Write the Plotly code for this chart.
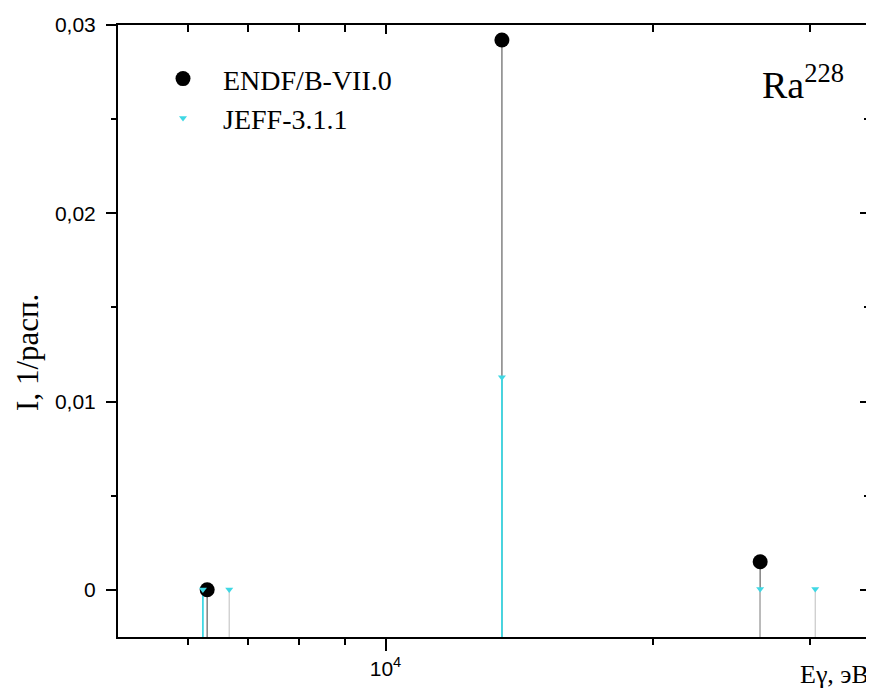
import math
import plotly.graph_objects as go

# ---- data ----
ENDF_E = [6300, 13520, 26400]          # eV
ENDF_I = [0.00001, 0.0292, 0.0015]     # 1/decay
JEFF_E = [6230, 6670, 13520, 26400, 30450]
JEFF_I = [0.00002, 0.00002, 0.0113, 0.00005, 0.00005]

Y_TICKS = [0, 0.01, 0.02, 0.03]
Y_TICK_TEXT = ["0", "0,01", "0,02", "0,03"]
Y_MINOR = [0.005, 0.015, 0.025]
X_TICKS = [10000]
X_TICK_TEXT = ["10<sup>4</sup>"]
X_MINOR = [6000, 7000, 8000, 9000, 20000, 30000]
X_RANGE = [5000, 35000]
Y_RANGE = [-0.0025, 0.03]

# ---- styles ----
CYAN = "#3fd8e4"
ENDF_STEM = "#8a8a8a"
JEFF_STEM_COLORS = [CYAN, "#c8c8c8", CYAN, "#c8c8c8", "#c8c8c8"]
SERIF = "Liberation Serif, Times New Roman, serif"
SANS = "Liberation Sans, Arial, sans-serif"

lx = [math.log10(v) for v in X_RANGE]

fig = go.Figure()

# ENDF stems
sx, sy = [], []
for e, v in zip(ENDF_E, ENDF_I):
    sx += [e, e, None]
    sy += [Y_RANGE[0], v, None]
fig.add_trace(go.Scatter(x=sx, y=sy, mode="lines", line=dict(color=ENDF_STEM, width=1.6),
                         showlegend=False, hoverinfo="skip"))
# JEFF stems (drawn over)
for e, v, c in zip(JEFF_E, JEFF_I, JEFF_STEM_COLORS):
    fig.add_trace(go.Scatter(x=[e, e], y=[Y_RANGE[0], v], mode="lines",
                             line=dict(color=c, width=1.8 if c == CYAN else 1.2),
                             showlegend=False, hoverinfo="skip"))

fig.add_trace(go.Scatter(x=ENDF_E, y=ENDF_I, mode="markers", name="ENDF/B-VII.0",
                         marker=dict(symbol="circle", size=15, color="black")))
fig.add_trace(go.Scatter(x=JEFF_E, y=JEFF_I, mode="markers", name="JEFF-3.1.1",
                         marker=dict(symbol="triangle-down", size=7, color=CYAN)))

# invisible trace for the mirrored (top/right) axes
fig.add_trace(go.Scatter(x=[X_RANGE[0]], y=[Y_RANGE[0]], xaxis="x2", yaxis="y2",
                         mode="markers", marker=dict(opacity=0), showlegend=False,
                         hoverinfo="skip"))

# page has an 8px body margin; figure coords = page coords - 8
OFF = 8
W, H = 874 - OFF, 694 - OFF
L, T = 118 - OFF, 23 - OFF
R = W - (869 - OFF)
B = H - (637 - OFF)
pw = W - L - R
ph = H - T - B


def px(xp):
    return (xp - OFF - L) / pw


def py(yp):
    return 1 - (yp - OFF - T) / ph


fig.update_layout(
    width=W, height=H,
    margin=dict(l=L, r=R, t=T, b=B),
    paper_bgcolor="white", plot_bgcolor="white",
    showlegend=True,
    legend=dict(x=px(143), y=py(52), xanchor="left", yanchor="top",
                bgcolor="rgba(0,0,0,0)", font=dict(family=SERIF, size=28, color="black"),
                itemwidth=70, tracegroupgap=0),
    xaxis=dict(type="log", range=lx, showgrid=False, zeroline=False,
               showline=True, linecolor="black", linewidth=2,
               tickmode="array", tickvals=X_TICKS, ticktext=X_TICK_TEXT,
               ticks="outside", ticklen=12, tickwidth=2, tickcolor="black",
               tickfont=dict(family=SANS, size=21, color="black"),
               minor=dict(tickmode="array", tickvals=X_MINOR, ticks="outside",
                          ticklen=6, tickwidth=2, tickcolor="black", showgrid=False)),
    yaxis=dict(range=Y_RANGE, showgrid=False, zeroline=False,
               showline=True, linecolor="black", linewidth=2,
               tickmode="array", tickvals=Y_TICKS, ticktext=Y_TICK_TEXT,
               ticks="outside", ticklen=10, tickwidth=2, tickcolor="black",
               ticklabelstandoff=6,
               tickfont=dict(family=SANS, size=21, color="black"),
               minor=dict(tickmode="array", tickvals=Y_MINOR, ticks="outside",
                          ticklen=5, tickwidth=2, tickcolor="black", showgrid=False)),
    xaxis2=dict(type="log", range=lx, overlaying="x", side="top", anchor="y2",
                showgrid=False, zeroline=False, showline=True, linecolor="black", linewidth=2,
                tickmode="array", tickvals=X_TICKS, showticklabels=False,
                ticks="inside", ticklen=9, tickwidth=2, tickcolor="black",
                minor=dict(tickmode="array", tickvals=X_MINOR, ticks="inside",
                           ticklen=7, tickwidth=2, tickcolor="black", showgrid=False)),
    yaxis2=dict(range=Y_RANGE, overlaying="y", side="right", anchor="x2",
                showgrid=False, zeroline=False, showline=True, linecolor="black", linewidth=2,
                tickmode="array", tickvals=Y_TICKS, showticklabels=False,
                ticks="inside", ticklen=9, tickwidth=2, tickcolor="black",
                minor=dict(tickmode="array", tickvals=Y_MINOR, ticks="inside",
                           ticklen=5, tickwidth=2, tickcolor="black", showgrid=False)),
)

fig.add_annotation(text="I, 1/расп.", xref="paper", yref="paper",
                   x=px(28), y=py(352), textangle=-90,
                   xanchor="center", yanchor="middle", showarrow=False,
                   font=dict(family=SERIF, size=31, color="black"))
fig.add_annotation(text="Eγ, эВ", xref="paper", yref="paper",
                   x=px(871), y=py(675),
                   xanchor="right", yanchor="middle", showarrow=False,
                   font=dict(family=SERIF, size=26, color="black"))
fig.add_annotation(text="Ra<sup>228</sup>", xref="paper", yref="paper",
                   x=px(760), y=py(80),
                   xanchor="left", yanchor="middle", showarrow=False,
                   font=dict(family=SERIF, size=38, color="black"))

fig.write_html("out.html")
